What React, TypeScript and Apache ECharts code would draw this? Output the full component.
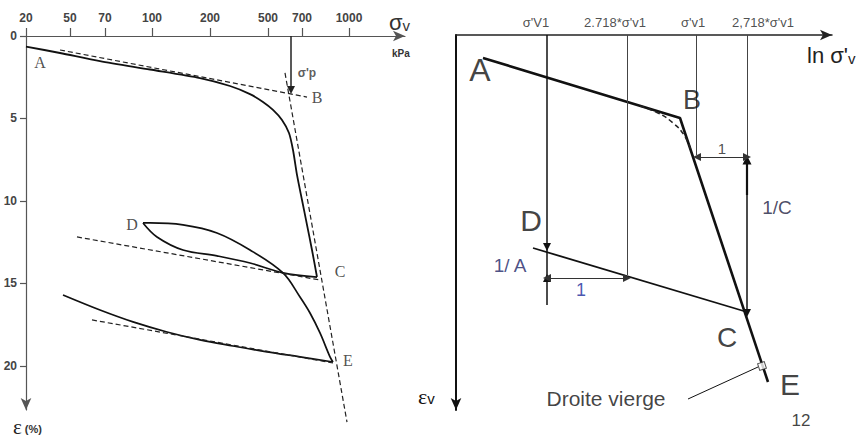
import React, { useEffect, useRef } from "react";
import * as echarts from "echarts";

// ---------- left panel: strain ε (%) against vertical stress σv (kPa) ----------
// abscissa is kept in drawing units; the stress values are only tick labels
const stressTickPos = [0, 44, 79, 126, 184, 242, 276, 323];
const stressTickLabels = ["20", "50", "70", "100", "200", "500", "700", "1000"];
const stressMax = 379;
const strainTicks = [0, 5, 10, 15, 20];
const strainMax = 22.67;

const virginCurve = [
  [0, 0.64], [34, 1.03], [74, 1.52], [124, 2.03], [174, 2.55], [204, 3.03],
  [224, 3.52], [237, 4.0], [247, 4.48], [256, 5.09], [263, 5.88], [267, 6.91],
  [271, 8.42], [276, 9.94], [281, 11.45], [286, 12.97], [291, 14.61],
];
const unloadCD = [
  [291, 14.61], [257, 14.36], [224, 13.76], [191, 13.33], [157, 12.97], [131, 12.18], [117, 11.33],
];
const reloadDE = [
  [117, 11.33], [124, 11.33], [157, 11.45], [191, 11.94], [224, 12.97], [257, 14.36],
  [274, 15.82], [284, 16.79], [294, 18.0], [304, 19.45], [307, 19.76],
];
const unloadE = [
  [37, 15.7], [74, 16.61], [107, 17.33], [141, 17.94], [174, 18.42], [207, 18.79],
  [241, 19.15], [274, 19.45], [307, 19.76],
];
const tangentAB = [[34, 0.85], [281, 3.7]];
const tangentVirgin = [[259, 2.24], [321, 23.4]];
const tangentCD = [[51, 12.18], [294, 14.79]];
const tangentE = [[66, 17.21], [307, 19.82]];
const preconsolidation = [[265, 0], [265, 3.27]];

const leftLetters = ["A", "B", "C", "D", "E"];
const leftLetterPts = [[14, 1.58], [291, 3.7], [314, 14.3], [106, 11.45], [322, 19.64]];
const sigmaPPt = [281, 2.24];

// ---------- right panel: idealised ε v against ln σ'v ----------
const lnMax = 376;
const epsMax = 375;
const refLabels = ["σ'V1", "2.718*σ'v1", "σ'v1", "2,718*σ'v1"];
const refLabelX = [80, 159, 237, 307];
const refLabelY = -13;

const virginLine = [[27, 23], [224, 83], [312, 347]];
const roundedKnee = [[184, 71], [202, 78], [217, 88], [228, 100], [235, 115]];
const reloadLine = [[77, 213], [291, 277]];
const leader = [[232, 364], [302, 332]];
const leaderMark = [306, 331];

const refPlain = [
  [[171, 0], [171, 240]],
  [[240, 0], [240, 120]],
  [[291, 0], [291, 122]],
];
const refMain = [[91, 0], [91, 212]];
const refMainLink = [[91, 212], [91, 243]];
const arrowUpA = [[91, 270], [91, 243]];
const arrowUpC = [[291, 160], [291, 125]];
const arrowDownC = [[291, 160], [291, 278]];
const unitArrows = [
  [[91, 243], [171, 243]],
  [[241, 122], [291, 122]],
];

const rightLetters = ["A", "B", "C", "D", "E"];
const rightLetterPts = [[24, 35], [236, 65], [271, 302], [75, 185], [334, 349]];
const rightLetterSizes = [32, 27, 28, 30, 30];
const slopeLabels = ["1/ A", "1/C", "1", "1", "12", "Droite vierge"];
const slopeLabelPts = [[54, 230], [321, 172], [125, 255], [266, 113], [345, 385], [150, 363]];

const SANS = "'Liberation Sans', Arial, Helvetica, sans-serif";
const SERIF = "'Liberation Serif', 'Times New Roman', serif";

function curve(
  data: number[][],
  idx: number,
  width: number,
  smooth: number | boolean,
  dashed = false,
  clip = true
) {
  return {
    type: "line",
    xAxisIndex: idx,
    yAxisIndex: idx,
    data,
    symbol: "none",
    smooth,
    clip,
    silent: true,
    lineStyle: dashed
      ? { color: "#222", width, type: [5, 3] }
      : { color: "#111", width },
    z: 3,
  };
}

function segments(idx: number, segs: number[][][], ends: string[], width: number, color: string, size = 8) {
  return {
    type: "line",
    xAxisIndex: idx,
    yAxisIndex: idx,
    data: [],
    symbol: "none",
    silent: true,
    markLine: {
      silent: true,
      animation: false,
      symbol: ends,
      symbolSize: size,
      label: { show: false },
      lineStyle: { type: "solid", color, width },
      itemStyle: { color: "#3a1010" },
      data: segs.map(([a, b]) => [{ coord: a }, { coord: b }]),
    },
  };
}

function texts(idx: number, names: string[], pts: number[][], label: any) {
  return {
    type: "scatter",
    xAxisIndex: idx,
    yAxisIndex: idx,
    symbolSize: 0,
    clip: false,
    silent: true,
    data: names.map((n, i) => ({ name: n, value: pts[i] })),
    label: { show: true, position: "inside", formatter: "{b}", ...label },
    z: 5,
  };
}

// inverted ordinates draw their arrow at the axis start (bottom of the grid)
function axisLine(color: string, width: number, atStart = false) {
  return {
    show: true,
    onZero: false,
    symbol: atStart ? ["arrow", "none"] : ["none", "arrow"],
    symbolSize: [8, 12],
    lineStyle: { color, width },
  };
}

export default function App() {
  const ref = useRef<HTMLDivElement>(null);

  useEffect(() => {
    if (!ref.current) return;
    const chart = echarts.init(ref.current, null, { renderer: "svg" });

    const option = {
      animation: false,
      backgroundColor: "#ffffff",
      grid: [
        { left: 26, top: 36, width: 379, height: 374 },
        { left: 456, top: 35, width: 376, height: 375 },
      ],
      xAxis: [
        {
          gridIndex: 0,
          type: "value",
          position: "top",
          min: 0,
          max: stressMax,
          axisLine: axisLine("#555", 1.2),
          axisTick: { show: true, customValues: stressTickPos, length: 8, lineStyle: { color: "#555", width: 1.2 } },
          axisLabel: {
            show: true,
            customValues: stressTickPos,
            formatter: (v: number) => {
              const i = stressTickPos.indexOf(v);
              return i >= 0 ? stressTickLabels[i] : "";
            },
            margin: 12,
            color: "#444",
            fontWeight: "bold",
            fontSize: 12,
            fontFamily: SANS,
          },
          splitLine: { show: false },
        },
        {
          gridIndex: 1,
          type: "value",
          position: "top",
          min: 0,
          max: lnMax,
          axisLine: axisLine("#222", 1.5),
          axisTick: { show: false },
          axisLabel: { show: false },
          splitLine: { show: false },
        },
      ],
      yAxis: [
        {
          gridIndex: 0,
          type: "value",
          inverse: true,
          min: 0,
          max: strainMax,
          axisLine: axisLine("#555", 1.2, true),
          axisTick: { show: true, customValues: strainTicks, length: 6, lineStyle: { color: "#555", width: 1.2 } },
          axisLabel: {
            show: true,
            customValues: strainTicks,
            margin: 9,
            color: "#444",
            fontWeight: "bold",
            fontSize: 12,
            fontFamily: SANS,
          },
          splitLine: { show: false },
        },
        {
          gridIndex: 1,
          type: "value",
          inverse: true,
          min: 0,
          max: epsMax,
          axisLine: axisLine("#111", 2, true),
          axisTick: { show: false },
          axisLabel: { show: false },
          splitLine: { show: false },
        },
      ],
      graphic: [
        {
          type: "text",
          x: 389,
          y: 22,
          style: {
            text: "{a|σ}{b|v}",
            verticalAlign: "middle",
            rich: {
              a: { fontSize: 22, fontFamily: SANS, fill: "#333" },
              b: { fontSize: 15, fontFamily: SANS, fill: "#333", padding: [6, 0, 0, 0] },
            },
          },
        },
        {
          type: "text",
          x: 392,
          y: 53,
          style: { text: "kPa", fontSize: 10, fontWeight: "bold", fontFamily: SANS, fill: "#333", verticalAlign: "middle" },
        },
        {
          type: "text",
          x: 13,
          y: 427,
          style: {
            text: "{a|ε}{b| (%)}",
            verticalAlign: "middle",
            rich: {
              a: { fontSize: 21, fontFamily: SERIF, fill: "#222" },
              b: { fontSize: 11, fontWeight: "bold", fontFamily: SANS, fill: "#333", padding: [4, 0, 0, 0] },
            },
          },
        },
        {
          type: "text",
          x: 807,
          y: 55,
          style: {
            text: "{a|ln σ'}{b|v}",
            verticalAlign: "middle",
            rich: {
              a: { fontSize: 22, fontFamily: SANS, fill: "#222" },
              b: { fontSize: 15, fontFamily: SANS, fill: "#222", padding: [6, 0, 0, 0] },
            },
          },
        },
        {
          type: "text",
          x: 418,
          y: 396,
          style: {
            text: "{a|ε}{b|v}",
            verticalAlign: "middle",
            rich: {
              a: { fontSize: 22, fontFamily: SERIF, fill: "#111" },
              b: { fontSize: 15, fontFamily: SANS, fill: "#111", padding: [4, 0, 0, 0] },
            },
          },
        },
      ],
      series: [
        // left panel curves
        curve(virginCurve, 0, 1.8, 0.25),
        curve(unloadCD, 0, 1.7, 0.35),
        curve(reloadDE, 0, 1.7, 0.35),
        curve(unloadE, 0, 1.7, 0.35),
        curve(tangentAB, 0, 1.2, false, true),
        curve(tangentVirgin, 0, 1.2, false, true, false),
        curve(tangentCD, 0, 1.2, false, true),
        curve(tangentE, 0, 1.2, false, true),
        segments(0, [preconsolidation], ["none", "triangle"], 1.5, "#222", 8),
        texts(0, leftLetters, leftLetterPts, { fontSize: 16, fontFamily: SERIF, color: "#222" }),
        texts(0, ["σ'p"], [sigmaPPt], { fontSize: 12, fontWeight: "bold", fontFamily: SANS, color: "#333" }),

        // right panel construction lines
        curve(virginLine, 1, 2.6, false),
        curve(roundedKnee, 1, 1.5, true, true),
        curve(reloadLine, 1, 1.8, false),
        curve(leader, 1, 1, false),
        segments(1, refPlain, ["none", "none"], 1, "#444"),
        segments(1, [refMainLink], ["none", "none"], 1.5, "#111"),
        segments(1, [refMain, arrowUpA, arrowDownC], ["none", "triangle"], 1.5, "#111", 8),
        segments(1, [arrowUpC], ["none", "triangle"], 2.2, "#111", 9),
        segments(1, unitArrows, ["triangle", "triangle"], 1, "#333", 8),
        {
          type: "scatter",
          xAxisIndex: 1,
          yAxisIndex: 1,
          data: [leaderMark],
          symbol: "rect",
          symbolSize: 7,
          symbolRotate: 18,
          silent: true,
          itemStyle: { color: "#fff", borderColor: "#222", borderWidth: 1 },
          z: 6,
        },
        texts(1, refLabels, refLabelX.map((x) => [x, refLabelY]), {
          fontSize: 13,
          fontFamily: SANS,
          color: "#222",
        }),
        {
          type: "scatter",
          xAxisIndex: 1,
          yAxisIndex: 1,
          symbolSize: 0,
          clip: false,
          silent: true,
          z: 5,
          data: rightLetters.map((n, i) => ({
            name: n,
            value: rightLetterPts[i],
            label: { fontSize: rightLetterSizes[i] },
          })),
          label: { show: true, position: "inside", formatter: "{b}", fontFamily: SANS, color: "#111" },
        },
        {
          type: "scatter",
          xAxisIndex: 1,
          yAxisIndex: 1,
          symbolSize: 0,
          clip: false,
          silent: true,
          z: 5,
          data: slopeLabels.map((n, i) => ({
            name: n,
            value: slopeLabelPts[i],
            label: {
              fontSize: [19, 19, 18, 15, 17, 21][i],
              color: ["#1c2466", "#1c2040", "#1a2a9a", "#222", "#111", "#111"][i],
            },
          })),
          label: { show: true, position: "inside", formatter: "{b}", fontFamily: SANS },
        },
      ],
    };

    chart.setOption(option as any);
    return () => chart.dispose();
  }, []);

  return (
    <div
      ref={ref}
      style={{ position: "fixed", left: 0, top: 0, width: 861, height: 439, background: "#fff" }}
    />
  );
}
